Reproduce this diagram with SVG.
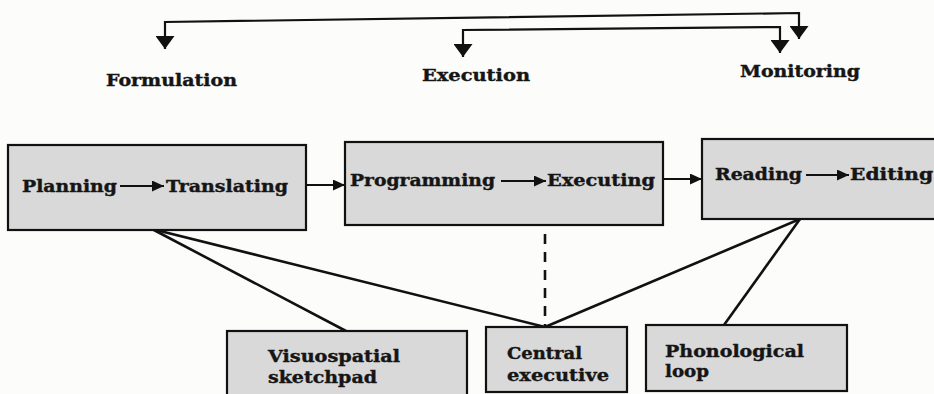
<svg xmlns="http://www.w3.org/2000/svg" width="934" height="394" viewBox="0 0 934 394">
<style>
.bg{fill:#fcfcfa}
.box{fill:#d9d9d9;stroke:#111;stroke-width:2.2}
.t{font-family:"DejaVu Serif","Liberation Serif",serif;font-weight:bold;font-size:17px;fill:#151515;stroke:#151515;stroke-width:0.4}
.ln{fill:none;stroke:#111;stroke-width:2.2}
.cl{fill:none;stroke:#111;stroke-width:2.6}
.dash{fill:none;stroke:#111;stroke-width:2.6;stroke-dasharray:10 8}
</style>
<defs>
<marker id="big" viewBox="0 0 10 10" refX="10" refY="5" markerUnits="userSpaceOnUse" markerWidth="13" markerHeight="19" preserveAspectRatio="none" orient="auto-start-reverse">
<path d="M0,0 L10,5 L0,10 z" fill="#111"/>
</marker>
<marker id="sm" viewBox="0 0 10 10" refX="10" refY="5" markerUnits="userSpaceOnUse" markerWidth="12" markerHeight="11" preserveAspectRatio="none" orient="auto">
<path d="M0,0 L10,5 L0,10 z" fill="#111"/>
</marker>
</defs>
<rect class="bg" x="0" y="0" width="934" height="394"/>

<g id="connectors">
<path class="ln" d="M165,49 V22 L799,13 V39" marker-start="url(#big)" marker-end="url(#big)"/>
<path class="ln" d="M463,57 V30 L780,27 V53" marker-start="url(#big)" marker-end="url(#big)"/>
<line class="ln" x1="306" y1="185" x2="345" y2="185" marker-end="url(#sm)"/>
<line class="ln" x1="663" y1="179" x2="702" y2="179" marker-end="url(#sm)"/>
<line class="cl" x1="152" y1="229" x2="346" y2="331"/>
<line class="cl" x1="152" y1="229" x2="545" y2="327"/>
<line class="dash" x1="545" y1="234" x2="545" y2="327"/>
<line class="cl" x1="800" y1="219" x2="545" y2="327"/>
<line class="cl" x1="800" y1="219" x2="724" y2="325"/>
</g>

<g id="formulation">
<text class="t" x="106" y="86" textLength="131" lengthAdjust="spacingAndGlyphs">Formulation</text>
</g>
<g id="execution">
<text class="t" x="422" y="81" textLength="108" lengthAdjust="spacingAndGlyphs">Execution</text>
</g>
<g id="monitoring">
<text class="t" x="740" y="77" textLength="120" lengthAdjust="spacingAndGlyphs">Monitoring</text>
</g>

<g id="box-formulation">
<rect class="box" x="8" y="145" width="298" height="85"/>
<text class="t" x="22" y="192" textLength="95" lengthAdjust="spacingAndGlyphs">Planning</text>
<line class="ln" x1="120" y1="186" x2="164" y2="186" marker-end="url(#sm)"/>
<text class="t" x="166" y="192" textLength="122" lengthAdjust="spacingAndGlyphs">Translating</text>
</g>

<g id="box-execution">
<rect class="box" x="345" y="142" width="318" height="83"/>
<text class="t" x="350" y="186" textLength="145" lengthAdjust="spacingAndGlyphs">Programming</text>
<line class="ln" x1="501" y1="181" x2="546" y2="181" marker-end="url(#sm)"/>
<text class="t" x="547" y="186" textLength="108" lengthAdjust="spacingAndGlyphs">Executing</text>
</g>

<g id="box-monitoring">
<rect class="box" x="702" y="139" width="240" height="80"/>
<text class="t" x="715" y="180" textLength="87" lengthAdjust="spacingAndGlyphs">Reading</text>
<line class="ln" x1="806" y1="175" x2="849" y2="175" marker-end="url(#sm)"/>
<text class="t" x="850" y="180" textLength="83" lengthAdjust="spacingAndGlyphs">Editing</text>
</g>

<g id="visuospatial">
<rect class="box" x="227" y="331" width="240" height="70"/>
<text class="t" x="268" y="362" textLength="132" lengthAdjust="spacingAndGlyphs">Visuospatial</text>
<text class="t" x="268" y="383" textLength="109" lengthAdjust="spacingAndGlyphs">sketchpad</text>
</g>

<g id="central-executive">
<rect class="box" x="486" y="327" width="141" height="65"/>
<text class="t" x="507" y="359" textLength="75" lengthAdjust="spacingAndGlyphs">Central</text>
<text class="t" x="507" y="381" textLength="102" lengthAdjust="spacingAndGlyphs">executive</text>
</g>

<g id="phonological-loop">
<rect class="box" x="646" y="325" width="201" height="66"/>
<text class="t" x="665" y="357" textLength="139" lengthAdjust="spacingAndGlyphs">Phonological</text>
<text class="t" x="665" y="377" textLength="44" lengthAdjust="spacingAndGlyphs">loop</text>
</g>
</svg>
